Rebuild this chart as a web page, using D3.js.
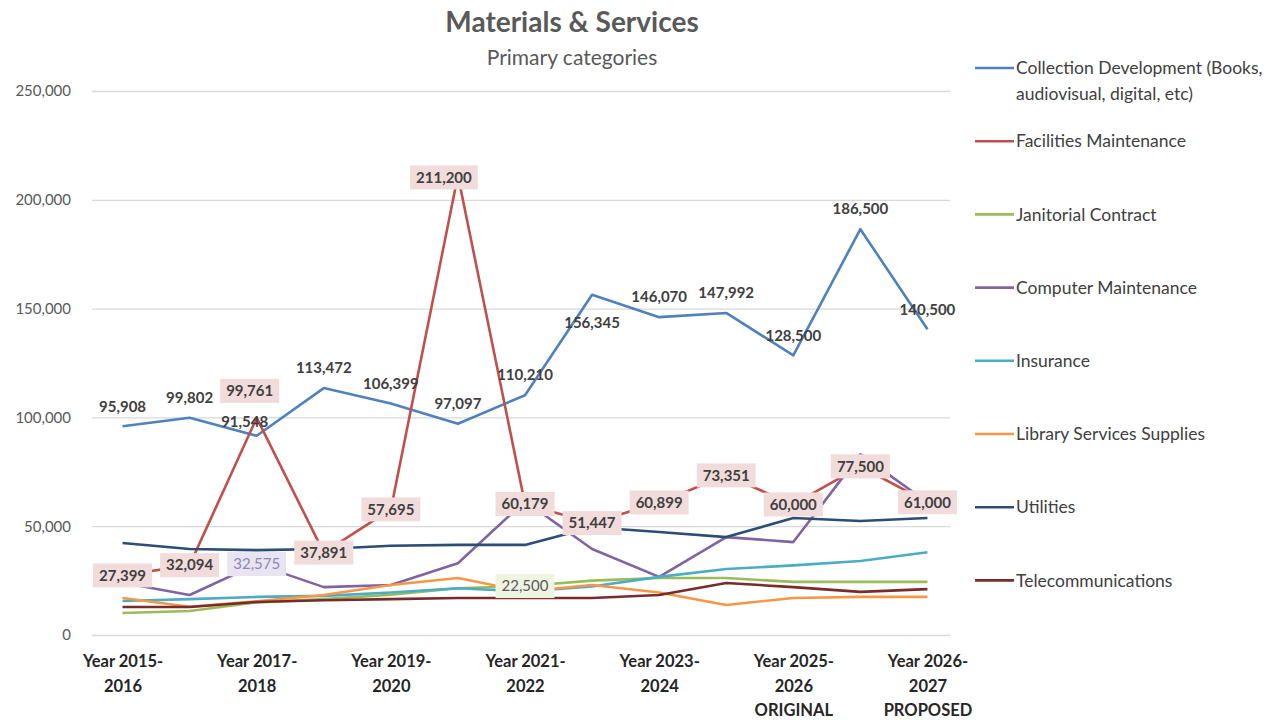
<!DOCTYPE html>
<html>
<head>
<meta charset="utf-8">
<script src="https://cdn.jsdelivr.net/npm/d3@7"></script>
<style>
  html, body { margin: 0; padding: 0; background: #fff; }
  svg { display: block; font-family: Lato, "Open Sans", sans-serif; }
</style>
</head>
<body>
<svg id="chart" width="1278" height="720"></svg>
<script>
// Fiscal years shown on the x axis
const categories = [
  "Year 2015-2016", "Year 2016-2017", "Year 2017-2018", "Year 2018-2019",
  "Year 2019-2020", "Year 2020-2021", "Year 2021-2022", "Year 2022-2023",
  "Year 2023-2024", "Year 2024-2025", "Year 2025-2026 ORIGINAL",
  "Year 2025-2026 REVISED", "Year 2026-2027 PROPOSED"
];

// Spending per category
const collectionDevelopment = [95908, 99802, 91548, 113472, 106399, 97097, 110210, 156345, 146070, 147992, 128500, 186500, 140500];
const facilitiesMaintenance = [27399, 32094, 99761, 37891, 57695, 211200, 60179, 51447, 60899, 73351, 60000, 77500, 61000];
const janitorialContract    = [10100, 11000, 15000, 16500, 18500, 21500, 22500, 25000, 26200, 26200, 24400, 24400, 24400];
const computerMaintenance   = [24000, 18400, 32575, 22000, 23000, 33000, 61500, 39500, 26700, 45000, 42700, 83000, 61000];
const insurance             = [15600, 16500, 17500, 18000, 19500, 21500, 20000, 22300, 26700, 30300, 32000, 34000, 38000];
const librarySupplies       = [17000, 13000, 15500, 18400, 23000, 26200, 20000, 23000, 19500, 13800, 17000, 17500, 17500];
const utilities             = [42300, 39500, 39000, 39500, 41000, 41400, 41400, 49500, 47300, 45000, 53800, 52400, 53800];
const telecommunications    = [12900, 12900, 15200, 16000, 16500, 17000, 17000, 17000, 18400, 23900, 22000, 19800, 21100];

const yTicks = [0, 50000, 100000, 150000, 200000, 250000];

// Series in drawing / legend order
const series = [
  { name: ["Collection Development (Books,", "audiovisual, digital, etc)"], values: collectionDevelopment, color: "#4F81BD" },
  { name: ["Facilities Maintenance"], values: facilitiesMaintenance, color: "#C0504D" },
  { name: ["Janitorial Contract"], values: janitorialContract, color: "#9BBB59" },
  { name: ["Computer Maintenance"], values: computerMaintenance, color: "#8064A2" },
  { name: ["Insurance"], values: insurance, color: "#4BACC6" },
  { name: ["Library Services Supplies"], values: librarySupplies, color: "#F79646" },
  { name: ["Utilities"], values: utilities, color: "#2C4D75" },
  { name: ["Telecommunications"], values: telecommunications, color: "#772C2A" }
];

const svg = d3.select("#chart");
const gridLeft = 92, gridRight = 950;
const x = d3.scalePoint().domain(categories).range([89, 961]).padding(0.5);
const y = d3.scaleLinear().domain([0, 250000]).range([635, 91]);
const fmt = d3.format(",");

// Title
svg.append("text").attr("x", 572).attr("y", 32).attr("text-anchor", "middle")
  .attr("font-size", 28).attr("font-weight", 700).attr("fill", "#595959")
  .text("Materials & Services");
svg.append("text").attr("x", 572).attr("y", 65).attr("text-anchor", "middle")
  .attr("font-size", 21).attr("fill", "#595959")
  .text("Primary categories");

// Y axis with gridlines
const yAxisG = svg.append("g").attr("transform", `translate(${gridLeft},0)`)
  .call(d3.axisLeft(y).tickValues(yTicks).tickFormat(fmt)
    .tickSize(-(gridRight - gridLeft)).tickPadding(21));
yAxisG.select(".domain").remove();
yAxisG.selectAll(".tick line").attr("stroke", "#D9D9D9").attr("stroke-width", 1.3);
yAxisG.selectAll(".tick text").attr("font-size", 15).attr("fill", "#595959")
  .attr("font-family", "Lato, sans-serif");

// X axis: every other year labelled, wrapped over several lines
const xAxisG = svg.append("g").attr("transform", "translate(0,635)")
  .call(d3.axisBottom(x).tickValues(categories.filter((d, i) => i % 2 === 0)).tickSize(0));
xAxisG.select(".domain").remove();
xAxisG.selectAll(".tick text").each(function (d) {
  const parts = d.split(" ");
  const yrs = parts[1].split("-");
  const lines = [parts[0] + " " + yrs[0] + "-", yrs[1]].concat(parts.slice(2));
  const t = d3.select(this).text(null)
    .attr("font-size", 16.5).attr("font-weight", 700).attr("fill", "#262626")
    .attr("font-family", "Lato, sans-serif").attr("y", 0).attr("dy", null);
  lines.forEach((ln, k) => {
    t.append("tspan").attr("x", 0).attr("y", 32 + k * 24.5).text(ln);
  });
});

// Lines
const line = d3.line().x((d, i) => x(categories[i])).y(d => y(d));
svg.append("g").selectAll("path").data(series).join("path")
  .attr("d", s => line(s.values))
  .attr("fill", "none").attr("stroke", s => s.color)
  .attr("stroke-width", 2.6).attr("stroke-linejoin", "round");

// Value labels
const labelLayer = svg.append("g").attr("font-family", "Lato, sans-serif");

// Collection Development: plain labels above the points
const cdShift = { 2: [-12, 6], 7: [0, 48] };
labelLayer.selectAll("text.cd").data(collectionDevelopment).join("text")
  .attr("class", "cd")
  .attr("x", (d, i) => x(categories[i]) + (cdShift[i] ? cdShift[i][0] : 0))
  .attr("y", (d, i) => y(d) - 20 + (cdShift[i] ? cdShift[i][1] : 0))
  .attr("dy", "0.35em").attr("text-anchor", "middle")
  .attr("font-size", 15).attr("font-weight", 700).attr("fill", "#404040")
  .text(d => fmt(d));

// Boxed labels centred on the points
function boxedLabels(values, idx, shift, fill, textColor, weight) {
  idx.forEach(i => {
    const sh = shift[i] || [0, 0];
    const cx = x(categories[i]) + sh[0];
    const cy = y(values[i]) + sh[1];
    const g = labelLayer.append("g");
    const t = g.append("text").attr("x", cx).attr("y", cy).attr("dy", "0.35em")
      .attr("text-anchor", "middle").attr("font-size", 15).attr("font-weight", weight)
      .attr("fill", textColor).text(fmt(values[i]));
    const w = t.node().getComputedTextLength();
    g.insert("rect", "text").attr("x", cx - w / 2 - 6).attr("y", cy - 12)
      .attr("width", w + 12).attr("height", 24).attr("fill", fill);
  });
}
boxedLabels(facilitiesMaintenance, d3.range(facilitiesMaintenance.length),
  { 2: [-7, -27], 5: [-14, 2] }, "#F2DCDB", "#404040", 700);
boxedLabels(computerMaintenance, [2], {}, "#E8E4F0", "#8E86B8", 400);
boxedLabels(janitorialContract, [6], {}, "#EEF3E2", "#595959", 400);

// Legend
const legend = svg.append("g").attr("font-family", "Lato, sans-serif");
series.forEach((s, k) => {
  const ly = 68 + k * 73.2;
  const g = legend.append("g");
  g.append("line").attr("x1", 975).attr("x2", 1014).attr("y1", ly).attr("y2", ly)
    .attr("stroke", s.color).attr("stroke-width", 2.6);
  s.name.forEach((nm, j) => {
    g.append("text").attr("x", 1016).attr("y", ly + j * 25.5).attr("dy", "0.35em")
      .attr("font-size", 17.5).attr("fill", "#404040").text(nm);
  });
});
</script>
</body>
</html>
